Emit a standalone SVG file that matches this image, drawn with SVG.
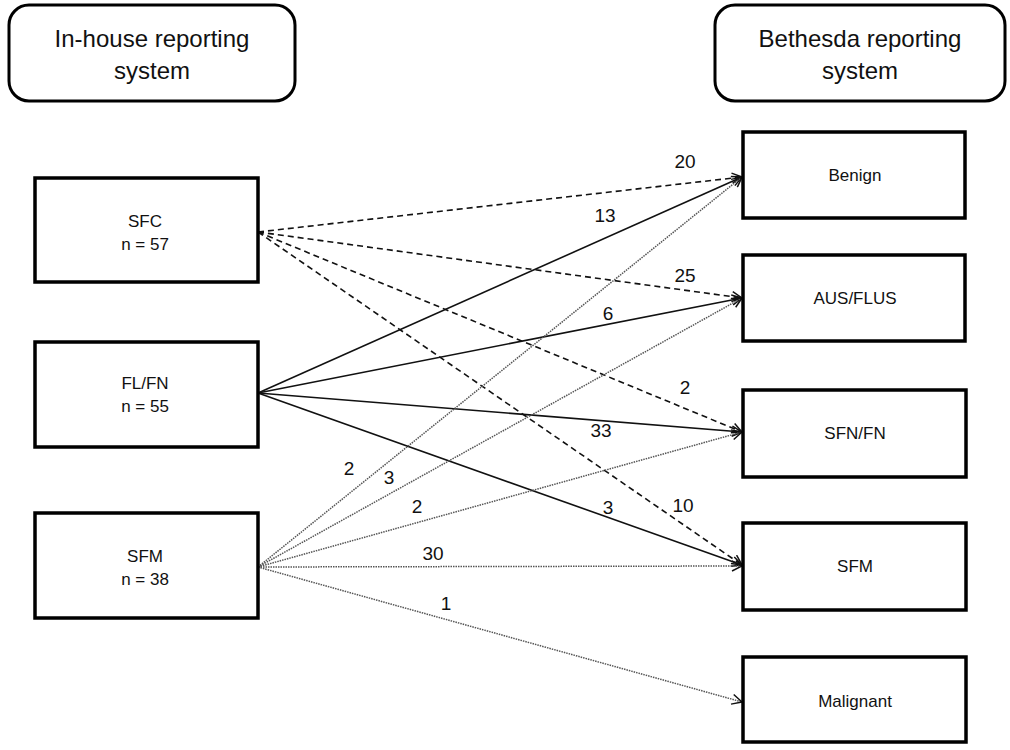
<svg xmlns="http://www.w3.org/2000/svg" width="1010" height="750" viewBox="0 0 1010 750">
<style>
.hdr{fill:#fff;stroke:#000;stroke-width:3}
.box{fill:#fff;stroke:#000;stroke-width:3.5}
.ht{font-family:"Liberation Sans",Arial,sans-serif;font-size:24px;fill:#111;text-anchor:middle}
.nt{font-family:"Liberation Sans",Arial,sans-serif;font-size:17px;fill:#111;text-anchor:middle}
.lb{font-family:"Liberation Sans",Arial,sans-serif;font-size:19px;fill:#111;text-anchor:middle}
.dash{stroke:#111;stroke-width:1.6;stroke-dasharray:6,4;fill:none}
.solid{stroke:#111;stroke-width:1.6;fill:none}
.dot{stroke:#555;stroke-width:1.5;stroke-dasharray:1.5,1;fill:none}
</style>
<defs>
<marker id="ah" viewBox="0 0 12 12" refX="11" refY="6" markerWidth="12" markerHeight="12" markerUnits="userSpaceOnUse" orient="auto">
<path d="M1,1 L11,6 L1,11" fill="none" stroke="#111" stroke-width="1.5"/>
</marker>
</defs>
<rect width="1010" height="750" fill="#fff"/>
<g id="hdr-left">
<rect class="hdr" x="9" y="5" width="286" height="96" rx="20"/>
<text class="ht" x="152" y="47">In-house reporting</text>
<text class="ht" x="152" y="79">system</text>
</g>
<g id="hdr-right">
<rect class="hdr" x="715" y="5" width="290" height="96" rx="20"/>
<text class="ht" x="860" y="47">Bethesda reporting</text>
<text class="ht" x="860" y="79">system</text>
</g>
<g id="connectors">
<line class="dash" x1="258" y1="232" x2="742" y2="177" marker-end="url(#ah)"/>
<line class="dash" x1="258" y1="232" x2="742" y2="298" marker-end="url(#ah)"/>
<line class="dash" x1="258" y1="232" x2="742" y2="432" marker-end="url(#ah)"/>
<line class="dash" x1="258" y1="232" x2="742" y2="565" marker-end="url(#ah)"/>
<line class="solid" x1="258" y1="393" x2="742" y2="177" marker-end="url(#ah)"/>
<line class="solid" x1="258" y1="393" x2="742" y2="298" marker-end="url(#ah)"/>
<line class="solid" x1="258" y1="393" x2="742" y2="432" marker-end="url(#ah)"/>
<line class="solid" x1="258" y1="393" x2="742" y2="565" marker-end="url(#ah)"/>
<line class="dot" x1="258" y1="567" x2="742" y2="177" marker-end="url(#ah)"/>
<line class="dot" x1="258" y1="567" x2="742" y2="298" marker-end="url(#ah)"/>
<line class="dot" x1="258" y1="567" x2="742" y2="432" marker-end="url(#ah)"/>
<line class="dot" x1="258" y1="567" x2="742" y2="566" marker-end="url(#ah)"/>
<line class="dot" x1="258" y1="567" x2="742" y2="702" marker-end="url(#ah)"/>
<text class="lb" x="685" y="168">20</text>
<text class="lb" x="605" y="222">13</text>
<text class="lb" x="685" y="282">25</text>
<text class="lb" x="608" y="320">6</text>
<text class="lb" x="685" y="394">2</text>
<text class="lb" x="601" y="437">33</text>
<text class="lb" x="683" y="512">10</text>
<text class="lb" x="608" y="514">3</text>
<text class="lb" x="349" y="475">2</text>
<text class="lb" x="389" y="484">3</text>
<text class="lb" x="417" y="513">2</text>
<text class="lb" x="433" y="560">30</text>
<text class="lb" x="446" y="610">1</text>
</g>
<g id="n-sfc">
<rect class="box" x="35" y="178" width="223" height="104"/>
<text class="nt" x="145" y="227">SFC</text>
<text class="nt" x="145" y="250">n = 57</text>
</g>
<g id="n-flfn">
<rect class="box" x="35" y="342" width="223" height="105"/>
<text class="nt" x="145" y="389">FL/FN</text>
<text class="nt" x="145" y="412">n = 55</text>
</g>
<g id="n-sfm">
<rect class="box" x="35" y="513" width="223" height="105"/>
<text class="nt" x="145" y="562">SFM</text>
<text class="nt" x="145" y="585">n = 38</text>
</g>
<g id="b-benign">
<rect class="box" x="743" y="132" width="222" height="86"/>
<text class="nt" x="855" y="181">Benign</text>
</g>
<g id="b-ausflus">
<rect class="box" x="743" y="255" width="222" height="86"/>
<text class="nt" x="855" y="304">AUS/FLUS</text>
</g>
<g id="b-sfnfn">
<rect class="box" x="743" y="390" width="223" height="87"/>
<text class="nt" x="855" y="439">SFN/FN</text>
</g>
<g id="b-sfm">
<rect class="box" x="743" y="523" width="223" height="87"/>
<text class="nt" x="855" y="572">SFM</text>
</g>
<g id="b-malignant">
<rect class="box" x="743" y="657" width="223" height="85"/>
<text class="nt" x="855" y="707">Malignant</text>
</g>
</svg>
